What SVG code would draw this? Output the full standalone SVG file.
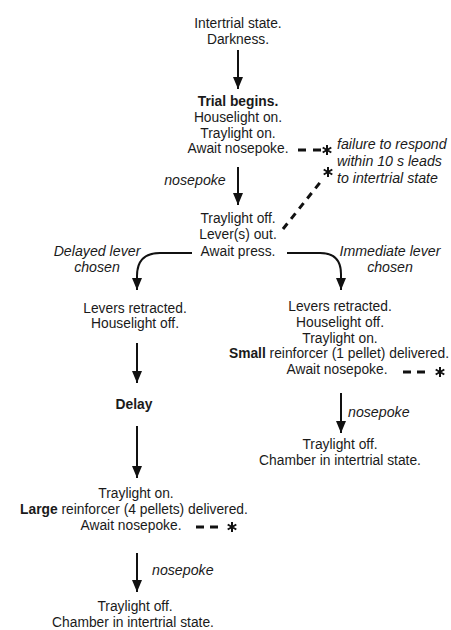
<svg xmlns="http://www.w3.org/2000/svg" width="451" height="630" viewBox="0 0 451 630">
<defs>
<style>
text{font-family:"Liberation Sans",Arial,Helvetica,sans-serif;font-size:13.8px;fill:#1a1a1a;text-anchor:middle}
.b{font-weight:bold}
.i{font-style:italic;font-size:14.2px}
.l{text-anchor:start}
.arr{fill:none;stroke:#111;stroke-width:2;marker-end:url(#ah)}
.dash{fill:none;stroke:#111;stroke-width:3}
.diag{fill:none;stroke:#111;stroke-width:3;stroke-dasharray:7 6}
.star{fill:none;stroke:#111;stroke-width:2}
</style>
<marker id="ah" markerUnits="userSpaceOnUse" markerWidth="14" markerHeight="12" refX="12" refY="5" orient="auto">
<path d="M0,0 L12,5 L0,10 z" fill="#111"/>
</marker>
<symbol id="ast" overflow="visible">
<path class="star" d="M0,-5 V5 M-4.3,-2.5 L4.3,2.5 M-4.3,2.5 L4.3,-2.5"/>
</symbol>
</defs>
<rect width="451" height="630" fill="#fff"/>

<g id="connectors">
<path class="arr" d="M238,50 V89"/>
<path class="arr" d="M238,167 V205"/>
<path class="arr" d="M192,253 H160 Q137,253 137,276 V290"/>
<path class="arr" d="M287,253 H320 Q341,253 341,274 V290"/>
<path class="arr" d="M137,343 V383"/>
<path class="arr" d="M137,426 V478"/>
<path class="arr" d="M137,553 V592"/>
<path class="arr" d="M341,393 V433"/>
<path class="dash" d="M298,150 H306 M313,150 H321"/>
<use href="#ast" x="327" y="150"/>
<path class="diag" d="M283,229 L322,180"/>
<use href="#ast" x="328" y="172"/>
<path class="dash" d="M196,527 H204 M210,527 H218"/>
<use href="#ast" x="232" y="527"/>
<path class="dash" d="M403,372 H411 M417,372 H425"/>
<use href="#ast" x="440" y="372"/>
</g>

<g id="intertrial">
<text x="238" y="28">Intertrial state.</text>
<text x="238" y="44">Darkness.</text>
</g>
<g id="trial-begins">
<text x="238" y="106" class="b">Trial begins.</text>
<text x="238" y="122">Houselight on.</text>
<text x="238" y="137.5">Traylight on.</text>
<text x="238" y="153">Await nosepoke.</text>
</g>
<g id="failure-note">
<text x="337" y="149" class="i l">failure to respond</text>
<text x="337" y="166" class="i l">within 10 s leads</text>
<text x="337" y="183" class="i l">to intertrial state</text>
</g>
<g id="nosepoke-1">
<text x="195" y="185" class="i">nosepoke</text>
</g>
<g id="await-press">
<text x="238" y="222.5">Traylight off.</text>
<text x="238" y="239">Lever(s) out.</text>
<text x="238" y="255.5">Await press.</text>
</g>
<g id="delayed-label">
<text x="97" y="256" class="i">Delayed lever</text>
<text x="97" y="272" class="i">chosen</text>
</g>
<g id="immediate-label">
<text x="390" y="256" class="i">Immediate lever</text>
<text x="390" y="272" class="i">chosen</text>
</g>
<g id="delayed-retract">
<text x="135" y="312.5">Levers retracted.</text>
<text x="135" y="328">Houselight off.</text>
</g>
<g id="delay">
<text x="134" y="409" class="b">Delay</text>
</g>
<g id="large-reinforcer">
<text x="136" y="498">Traylight on.</text>
<text x="134" y="514"><tspan class="b">Large</tspan> reinforcer (4 pellets) delivered.</text>
<text x="131" y="530">Await nosepoke.</text>
</g>
<g id="nosepoke-3">
<text x="152" y="575" class="i l">nosepoke</text>
</g>
<g id="delayed-end">
<text x="135" y="611">Traylight off.</text>
<text x="133" y="627">Chamber in intertrial state.</text>
</g>
<g id="immediate-retract">
<text x="340" y="311">Levers retracted.</text>
<text x="340" y="327">Houselight off.</text>
<text x="340" y="342.5">Traylight on.</text>
<text x="339" y="358"><tspan class="b">Small</tspan> reinforcer (1 pellet) delivered.</text>
<text x="337" y="374">Await nosepoke.</text>
</g>
<g id="nosepoke-2">
<text x="348" y="417" class="i l">nosepoke</text>
</g>
<g id="immediate-end">
<text x="340" y="448.5">Traylight off.</text>
<text x="340" y="464.5">Chamber in intertrial state.</text>
</g>
</svg>
